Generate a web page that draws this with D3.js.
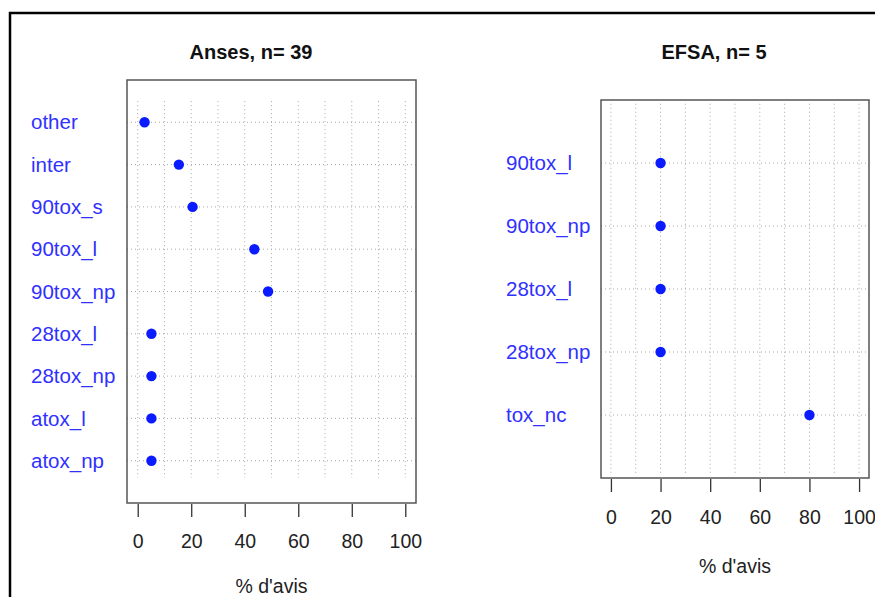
<!DOCTYPE html>
<html>
<head>
<meta charset="utf-8">
<script src="https://cdn.jsdelivr.net/npm/d3@7"></script>
<style>
  body { margin: 0; background: #fff; }
  svg text { font-family: "Liberation Sans", Arial, sans-serif; }
</style>
</head>
<body>
<div id="chart"></div>
<script>
// data (share of opinions, %)
var anses_categories = ["other", "inter", "90tox_s", "90tox_l", "90tox_np", "28tox_l", "28tox_np", "atox_l", "atox_np"];
var anses_values = [2.56, 15.38, 20.51, 43.59, 48.72, 5.13, 5.13, 5.13, 5.13];
var efsa_categories = ["90tox_l", "90tox_np", "28tox_l", "28tox_np", "tox_nc"];
var efsa_values = [20, 20, 20, 20, 80];
var x_ticks = [0, 20, 40, 60, 80, 100];
var grid_ticks = [0, 10, 20, 30, 40, 50, 60, 70, 80, 90, 100];
var titles = ["Anses, n= 39", "EFSA, n= 5"];
var axis_title = "% d'avis";

var width = 875, height = 597;
var point_color = "#0a1cff";
var label_color = "#3030ff";

var svg = d3.select("#chart").append("svg")
    .attr("width", width)
    .attr("height", height);

// outer frame (cut by the image on the right and bottom)
svg.append("rect")
    .attr("x", 10).attr("y", 13)
    .attr("width", 900).attr("height", 700)
    .attr("fill", "none")
    .attr("stroke", "#000")
    .attr("stroke-width", 2.5);

var panels = [
  { cats: anses_categories, vals: anses_values, title: titles[0],
    left: 127, right: 416, top: 80, bottom: 503,
    title_x: 251, title_y: 59, label_x: 31, tick_label_y: 548, axis_title_y: 593,
    grid_y: [0.6, 9.5] },
  { cats: efsa_categories, vals: efsa_values, title: titles[1],
    left: 601, right: 869, top: 100, bottom: 478,
    title_x: 714, title_y: 59, label_x: 506, tick_label_y: 524, axis_title_y: 573,
    grid_y: [0.06, 5.94] }
];

var draw_panel = function(p) {
  var n = p.cats.length;
  var x = d3.scaleLinear().domain([-4, 104]).range([p.left, p.right]);
  var y = d3.scaleLinear().domain([0, n + 1]).range([p.bottom, p.top]);
  var g = svg.append("g");

  // vertical dotted grid
  g.selectAll("line.vgrid").data(grid_ticks).enter().append("line")
      .attr("class", "vgrid")
      .attr("x1", function(d) { return x(d); })
      .attr("x2", function(d) { return x(d); })
      .attr("y1", y(p.grid_y[1]))
      .attr("y2", y(p.grid_y[0]))
      .attr("stroke", "#a8a8a8")
      .attr("stroke-width", 1)
      .attr("stroke-dasharray", "1,3");

  // horizontal dotted line per category
  g.selectAll("line.hgrid").data(p.cats).enter().append("line")
      .attr("class", "hgrid")
      .attr("x1", p.left)
      .attr("x2", p.right)
      .attr("y1", function(d, i) { return y(n - i); })
      .attr("y2", function(d, i) { return y(n - i); })
      .attr("stroke", "#a8a8a8")
      .attr("stroke-width", 1)
      .attr("stroke-dasharray", "1,3");

  // box
  g.append("rect")
      .attr("x", p.left).attr("y", p.top)
      .attr("width", p.right - p.left)
      .attr("height", p.bottom - p.top)
      .attr("fill", "none")
      .attr("stroke", "#555")
      .attr("stroke-width", 1.5);

  // points
  g.selectAll("circle").data(p.vals).enter().append("circle")
      .attr("cx", function(d) { return x(d); })
      .attr("cy", function(d, i) { return y(n - i); })
      .attr("r", 5.2)
      .attr("fill", point_color);

  // category labels
  g.selectAll("text.cat").data(p.cats).enter().append("text")
      .attr("class", "cat")
      .attr("x", p.label_x)
      .attr("y", function(d, i) { return y(n - i); })
      .attr("dy", "0.35em")
      .attr("font-size", "20.5px")
      .attr("fill", label_color)
      .text(function(d) { return d; });

  // x axis
  var axis = d3.axisBottom(x).tickValues(x_ticks).tickSize(13).tickPadding(12);
  var ax = g.append("g")
      .attr("transform", "translate(0," + (p.bottom + 1) + ")")
      .call(axis);
  ax.select(".domain").remove();
  ax.selectAll(".tick line").attr("stroke", "#333").attr("stroke-width", 1.3);
  ax.selectAll(".tick text")
      .attr("y", null).attr("dy", null)
      .attr("transform", "translate(0," + (p.tick_label_y - p.bottom - 1) + ")")
      .attr("font-size", "19.5px")
      .attr("fill", "#222")
      .attr("font-family", "Liberation Sans, Arial, sans-serif");

  // titles
  g.append("text")
      .attr("x", p.title_x).attr("y", p.title_y)
      .attr("text-anchor", "middle")
      .attr("font-size", "20px")
      .attr("font-weight", "bold")
      .attr("fill", "#111")
      .text(p.title);

  g.append("text")
      .attr("x", (p.left + p.right) / 2).attr("y", p.axis_title_y)
      .attr("text-anchor", "middle")
      .attr("font-size", "19.5px")
      .attr("fill", "#222")
      .text(axis_title);
}

panels.forEach(draw_panel);
</script>
</body>
</html>
